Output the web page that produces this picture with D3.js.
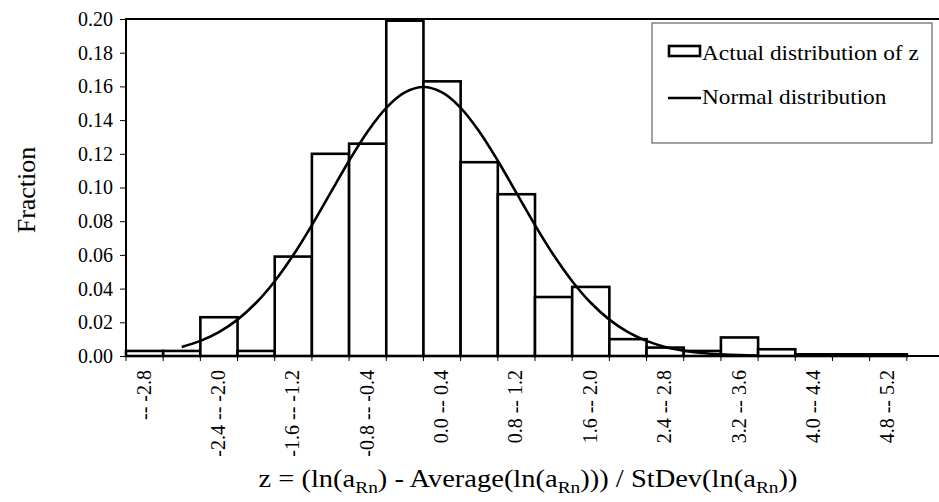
<!DOCTYPE html>
<html lang="en">
<head>
<meta charset="utf-8">
<title>Distribution of z</title>
<script src="https://d3js.org/d3.v7.min.js"></script>
<style>
  body { margin: 0; background: #fff; }
  text { font-family: "Liberation Serif", "Times New Roman", serif; fill: #000; }
</style>
</head>
<body>
<svg></svg>
<script>
// bins of 0.4 in z, only every other one gets a label
var categories = ["-- -2.8", "-2.8 -- -2.4", "-2.4 -- -2.0", "-2.0 -- -1.6", "-1.6 -- -1.2",
  "-1.2 -- -0.8", "-0.8 -- -0.4", "-0.4 -- 0.0", "0.0 -- 0.4", "0.4 -- 0.8", "0.8 -- 1.2",
  "1.2 -- 1.6", "1.6 -- 2.0", "2.0 -- 2.4", "2.4 -- 2.8", "2.8 -- 3.2", "3.2 -- 3.6",
  "3.6 -- 4.0", "4.0 -- 4.4", "4.4 -- 4.8", "4.8 -- 5.2", "5.2 -- 5.6"];
var fractions = [0.003, 0.003, 0.023, 0.003, 0.059, 0.120, 0.126, 0.199, 0.163, 0.115, 0.096,
  0.035, 0.041, 0.010, 0.005, 0.003, 0.011, 0.004, 0.001, 0.001, 0.001, 0.000];

// normal curve
var normalZ = [-2.6, -2.4, -2.2, -2.0, -1.8, -1.6, -1.4, -1.2, -1.0, -0.8, -0.6, -0.4, -0.2, 0.0,
  0.2, 0.4, 0.6, 0.8, 1.0, 1.2, 1.4, 1.6, 1.8, 2.0, 2.2, 2.4, 2.6, 2.8, 3.0, 3.2, 3.4, 3.6];
var normalY = [0.0054, 0.0090, 0.0142, 0.0216, 0.0316, 0.0444, 0.0599, 0.0777, 0.0968, 0.1159,
  0.1333, 0.1473, 0.1564, 0.1596, 0.1564, 0.1473, 0.1333, 0.1159, 0.0968, 0.0777, 0.0599,
  0.0444, 0.0316, 0.0216, 0.0142, 0.0090, 0.0054, 0.0032, 0.0018, 0.0010, 0.0005, 0.0002];

var yTicks = [0, 0.02, 0.04, 0.06, 0.08, 0.10, 0.12, 0.14, 0.16, 0.18, 0.20];

var width = 939, height = 502;
var plotL = 126, plotR = 944, plotT = 19, plotB = 356;

var svg = d3.select("svg").attr("width", width).attr("height", height);

var x = d3.scaleBand().domain(categories).range([plotL, plotR]).padding(0);
var xz = d3.scaleLinear().domain([-3.2, 5.6]).range([plotL, plotR]);
var y = d3.scaleLinear().domain([0, 0.2]).range([plotB, plotT]);

// top frame line
svg.append("line")
  .attr("x1", plotL).attr("x2", width).attr("y1", plotT).attr("y2", plotT)
  .style("stroke", "#000").style("stroke-width", 2);

// bars
svg.selectAll("rect.bar")
  .data(fractions)
  .enter()
  .append("rect")
  .attr("class", "bar")
  .attr("x", function(d, i) { return x(categories[i]); })
  .attr("width", x.bandwidth())
  .attr("y", function(d) { return y(d); })
  .attr("height", function(d) { return plotB - y(d); })
  .style("fill", "#fff")
  .style("stroke", "#000")
  .style("stroke-width", 2.6);

// normal curve
var line = d3.line()
  .x(function(d, i) { return xz(normalZ[i]); })
  .y(function(d) { return y(d); })
  .curve(d3.curveCatmullRom);

svg.append("path")
  .datum(normalY)
  .attr("d", line)
  .style("fill", "none")
  .style("stroke", "#000")
  .style("stroke-width", 2.6);

// y axis
var yAxis = d3.axisLeft(y).tickValues(yTicks).tickFormat(d3.format(".2f")).tickSize(6).tickPadding(7);
var gy = svg.append("g").attr("transform", "translate(" + plotL + ",0)").call(yAxis);
gy.select(".domain").remove();
gy.selectAll("line").style("stroke", "#000").style("stroke-width", 1);
gy.selectAll("text").style("font-size", "20px").style("font-family", "Liberation Serif");
svg.append("line")
  .attr("x1", plotL).attr("x2", plotL).attr("y1", plotT - 1).attr("y2", plotB)
  .style("stroke", "#000").style("stroke-width", 2);

// x axis
var gx = svg.append("g").attr("transform", "translate(0," + plotB + ")");
gx.selectAll("line.tick")
  .data(categories.concat(["end"]))
  .enter()
  .append("line")
  .attr("x1", function(d, i) { return plotL + i * x.bandwidth(); })
  .attr("x2", function(d, i) { return plotL + i * x.bandwidth(); })
  .attr("y1", 0).attr("y2", 5)
  .style("stroke", "#000").style("stroke-width", 1);
gx.selectAll("text")
  .data(categories.filter(function(d, i) { return i % 2 === 0; }))
  .enter()
  .append("text")
  .attr("transform", function(d) {
    return "translate(" + (x(d) + x.bandwidth() / 2 + 6) + ",14) rotate(-90)";
  })
  .attr("text-anchor", "end")
  .style("font-size", "20px")
  .text(function(d) { return d; });
svg.append("line")
  .attr("x1", plotL - 1).attr("x2", width).attr("y1", plotB).attr("y2", plotB)
  .style("stroke", "#000").style("stroke-width", 2.2);

// axis titles
svg.append("text")
  .attr("transform", "translate(35,190) rotate(-90)")
  .attr("text-anchor", "middle")
  .style("font-size", "26px")
  .text("Fraction");

var title = svg.append("text")
  .attr("transform", "translate(528,487) scale(1.14,1)")
  .attr("text-anchor", "middle")
  .style("font-size", "25px");
var parts = [["z = (ln(a", 0], ["Rn", 1], [") - Average(ln(a", 0], ["Rn", 1], ["))) / StDev(ln(a", 0], ["Rn", 1], ["))", 0]];
parts.forEach(function(p) {
  title.append("tspan")
    .attr("dy", p[1] ? 6 : (p[0].charAt(0) === ")" ? -6 : 0))
    .style("font-size", p[1] ? "17px" : "25px")
    .text(p[0]);
});

// legend
var lg = svg.append("g");
lg.append("rect")
  .attr("x", 652).attr("y", 23).attr("width", 280).attr("height", 120)
  .style("fill", "#fff").style("stroke", "#444").style("stroke-width", 1);
lg.append("rect")
  .attr("x", 669).attr("y", 46).attr("width", 31).attr("height", 10)
  .style("fill", "#fff").style("stroke", "#000").style("stroke-width", 2.6);
lg.append("text").attr("transform", "translate(702,60) scale(1.11,1)")
  .style("font-size", "21px").text("Actual distribution of z");
lg.append("line")
  .attr("x1", 668).attr("x2", 701).attr("y1", 98).attr("y2", 98)
  .style("stroke", "#000").style("stroke-width", 2.6);
lg.append("text").attr("transform", "translate(702,104) scale(1.11,1)")
  .style("font-size", "21px").text("Normal distribution");
</script>
</body>
</html>
